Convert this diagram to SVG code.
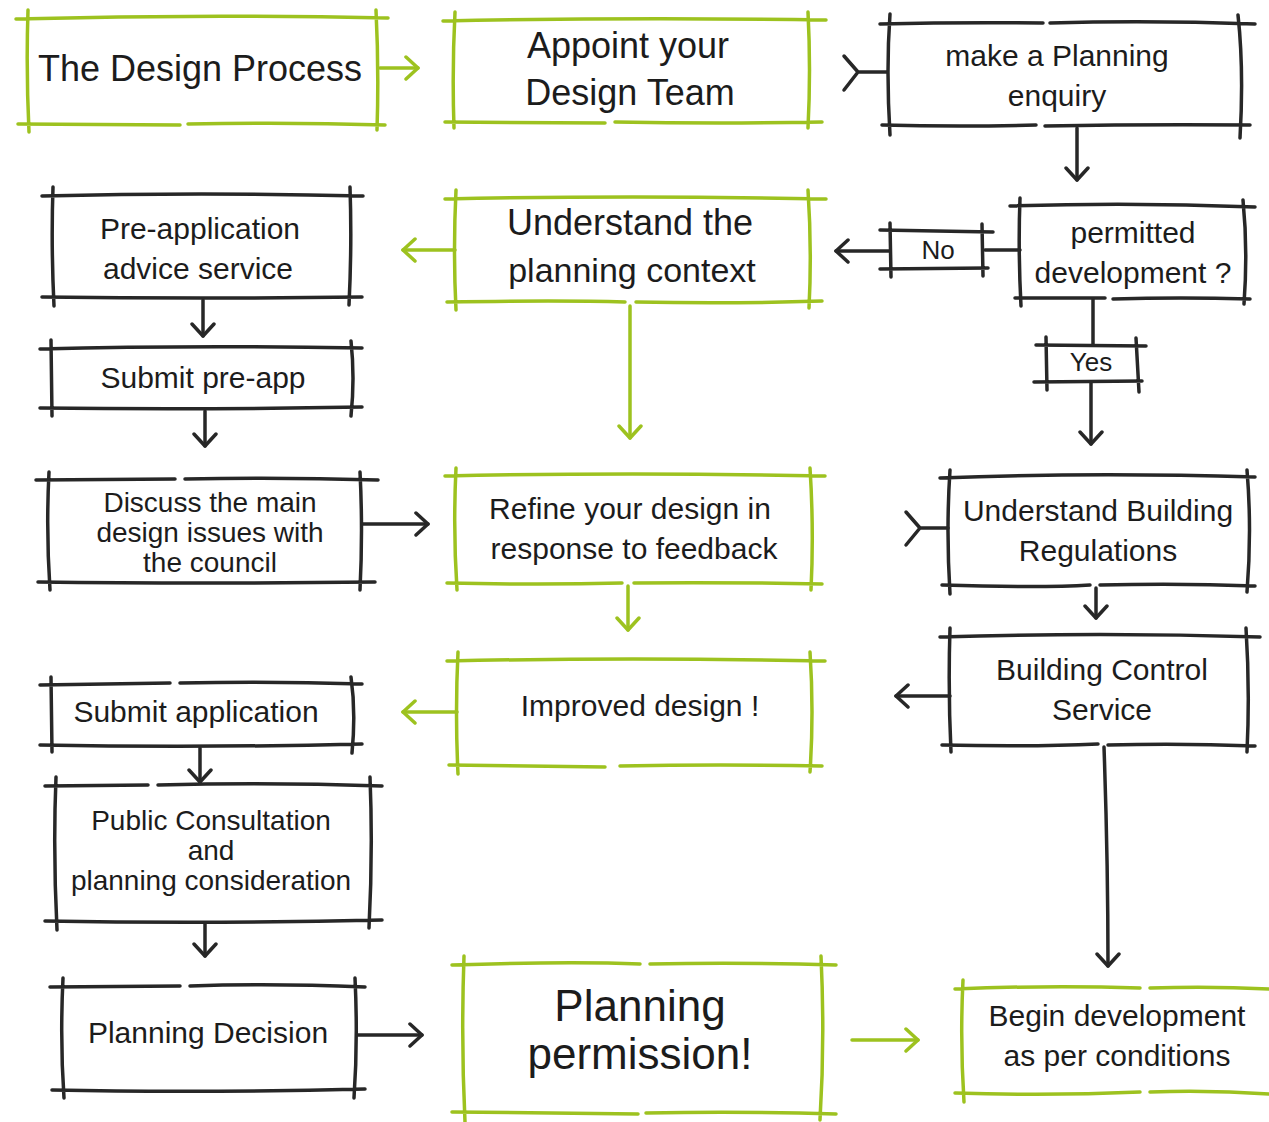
<svg xmlns="http://www.w3.org/2000/svg" width="1269" height="1122" viewBox="0 0 1269 1122">
<defs>
<style>
.g{fill:none;stroke:#9dc21f;stroke-width:3.5;stroke-linecap:round;stroke-linejoin:round}
.k{fill:none;stroke:#272727;stroke-width:3.5;stroke-linecap:round;stroke-linejoin:round}
text{font-family:"Liberation Sans","Noto Sans",sans-serif;fill:#1c1c1c;text-anchor:middle;dominant-baseline:central}
.t28{font-size:28px}.t30{font-size:30px}.t34{font-size:34px}.t36{font-size:36px}.t26{font-size:26px}
</style>
<marker id="ak" viewBox="0 0 16 26" refX="14" refY="13" markerWidth="16" markerHeight="26" orient="auto" markerUnits="userSpaceOnUse">
<path d="M2,2 L14,13 L2,24" fill="none" stroke="#272727" stroke-width="3.5" stroke-linecap="round" stroke-linejoin="round"/>
</marker>
<marker id="ag" viewBox="0 0 16 26" refX="14" refY="13" markerWidth="16" markerHeight="26" orient="auto" markerUnits="userSpaceOnUse">
<path d="M2,2 L14,13 L2,24" fill="none" stroke="#9dc21f" stroke-width="3.5" stroke-linecap="round" stroke-linejoin="round"/>
</marker>
</defs>
<rect width="1269" height="1122" fill="#ffffff"/>

<g id="connectors">
<path class="g" d="M380,68 L418,68" marker-end="url(#ag)"/>
<path class="k" d="M858,72 L887,72 M858,72 L844,56 M858,72 L844,90"/>
<path class="k" d="M1077,128 L1077,180" marker-end="url(#ak)"/>
<path class="k" d="M985,250 L1020,250"/>
<path class="k" d="M890,251 L836,251" marker-end="url(#ak)"/>
<path class="k" d="M1093,299 L1093,344"/>
<path class="k" d="M1091,382 L1091,444" marker-end="url(#ak)"/>
<path class="g" d="M455,250 L403,250" marker-end="url(#ag)"/>
<path class="g" d="M630,306 L630,438" marker-end="url(#ag)"/>
<path class="k" d="M203,300 L203,336" marker-end="url(#ak)"/>
<path class="k" d="M205,411 L205,446" marker-end="url(#ak)"/>
<path class="k" d="M362,524 L428,524" marker-end="url(#ak)"/>
<path class="g" d="M628,586 L628,630" marker-end="url(#ag)"/>
<path class="k" d="M920,528 L948,528 M920,528 L906,512 M920,528 L906,545"/>
<path class="k" d="M1096,588 L1096,618" marker-end="url(#ak)"/>
<path class="k" d="M950,696 L896,696" marker-end="url(#ak)"/>
<path class="k" d="M1104,747 Q1108,860 1108,966" marker-end="url(#ak)"/>
<path class="g" d="M457,712 L403,712" marker-end="url(#ag)"/>
<path class="k" d="M200,748 L200,782" marker-end="url(#ak)"/>
<path class="k" d="M205,923 L205,956" marker-end="url(#ak)"/>
<path class="k" d="M357,1035 L422,1035" marker-end="url(#ak)"/>
<path class="g" d="M852,1040 L918,1040" marker-end="url(#ag)"/>
</g>

<g id="design-process">
<path class="g" d="M16,19 Q200,14 388,18 M18,124 L180,125 M188,124 Q290,122 385,125 M28,10 Q26,70 29,132 M376,10 Q379,70 377,130"/>
<text class="t36" x="200" y="68">The Design Process</text>
</g>

<g id="appoint-team">
<path class="g" d="M443,21 Q630,17 826,20 M445,122 L605,123 M615,122 Q720,124 822,122 M455,12 Q452,70 454,128 M808,12 Q811,70 808,128"/>
<text class="t36" x="628" y="45">Appoint your</text>
<text class="t36" x="630" y="92">Design Team</text>
</g>

<g id="planning-enquiry">
<path class="k" d="M880,24 Q960,22 1043,23 M1050,23 Q1150,20 1255,24 M882,125 Q960,127 1036,125 M1045,126 Q1150,124 1250,125 M890,14 Q886,70 890,135 M1238,15 Q1244,70 1240,138"/>
<text class="t30" x="1057" y="55">make a Planning</text>
<text class="t30" x="1057" y="95">enquiry</text>
</g>

<g id="permitted-development">
<path class="k" d="M1010,206 Q1130,202 1255,207 M1015,298 L1105,298 M1113,299 Q1180,297 1250,299 M1020,198 Q1018,250 1021,306 M1243,200 Q1248,250 1244,304"/>
<text class="t30" x="1133" y="232">permitted</text>
<text class="t30" x="1133" y="272">development ?</text>
</g>

<g id="no-label">
<path class="k" d="M880,230 L993,232 M880,269 L988,268 M890,223 L891,277 M982,224 L983,276"/>
<text class="t26" x="938" y="250">No</text>
</g>

<g id="yes-label">
<path class="k" d="M1036,345 L1146,346 M1034,382 L1142,381 M1046,337 L1047,390 M1136,338 L1139,392"/>
<text class="t26" x="1091" y="362">Yes</text>
</g>

<g id="planning-context">
<path class="g" d="M445,199 Q630,195 826,199 M447,302 Q560,300 625,302 M636,302 Q730,304 822,301 M456,190 Q453,250 456,310 M808,190 Q812,250 809,308"/>
<text class="t36" x="630" y="222">Understand the</text>
<text class="t34" x="632" y="270">planning context</text>
</g>

<g id="pre-application">
<path class="k" d="M42,196 Q200,192 363,196 M42,297 Q200,299 362,297 M53,187 Q51,245 54,306 M350,187 Q352,245 349,305"/>
<text class="t30" x="200" y="228">Pre-application</text>
<text class="t30" x="198" y="268">advice service</text>
</g>

<g id="submit-pre-app">
<path class="k" d="M40,349 Q190,345 362,348 M40,408 Q200,410 362,407 M51,340 L52,416 M351,341 Q355,378 351,416"/>
<text class="t30" x="203" y="377">Submit pre-app</text>
</g>

<g id="discuss">
<path class="k" d="M36,480 L175,479 M185,479 Q280,477 378,480 M38,582 Q200,584 375,582 M49,472 Q46,530 50,590 M360,472 Q363,530 360,590"/>
<text class="t28" x="210" y="502">Discuss the main</text>
<text class="t28" x="210" y="532">design issues with</text>
<text class="t28" x="210" y="562">the council</text>
</g>

<g id="refine-design">
<path class="g" d="M445,476 Q630,472 825,476 M447,583 Q540,585 622,583 M634,583 Q720,582 822,584 M456,468 Q453,530 457,590 M810,468 Q814,530 811,590"/>
<text class="t30" x="630" y="508">Refine your design in</text>
<text class="t30" x="634" y="548">response to feedback</text>
</g>

<g id="building-regulations">
<path class="k" d="M940,478 Q1090,472 1255,477 M942,585 Q1040,588 1090,585 M1100,585 Q1180,583 1255,586 M950,470 Q946,530 950,594 M1247,470 Q1252,530 1247,592"/>
<text class="t30" x="1098" y="510">Understand Building</text>
<text class="t30" x="1098" y="550">Regulations</text>
</g>

<g id="building-control">
<path class="k" d="M940,637 Q1100,632 1260,637 M942,745 Q1030,747 1098,744 M1108,745 Q1180,743 1255,746 M950,628 Q948,690 951,752 M1246,628 Q1250,690 1247,752"/>
<text class="t30" x="1102" y="669">Building Control</text>
<text class="t30" x="1102" y="709">Service</text>
</g>

<g id="improved-design">
<path class="g" d="M447,661 Q630,657 825,661 M449,765 L605,767 M620,766 Q720,764 822,766 M458,652 Q455,712 458,774 M810,652 Q814,712 810,772"/>
<text class="t30" x="640" y="705">Improved design !</text>
</g>

<g id="submit-application">
<path class="k" d="M40,685 L170,683 M180,683 Q270,681 362,684 M40,745 Q200,748 362,744 M51,677 L52,752 M351,677 Q356,712 352,753"/>
<text class="t30" x="196" y="711">Submit application</text>
</g>

<g id="public-consultation">
<path class="k" d="M45,786 L148,785 M158,785 Q270,782 382,786 M45,921 Q210,924 382,920 M56,777 Q53,850 57,930 M370,777 Q373,850 369,928"/>
<text class="t28" x="211" y="820">Public Consultation</text>
<text class="t28" x="211" y="850">and</text>
<text class="t28" x="211" y="880">planning consideration</text>
</g>

<g id="planning-decision">
<path class="k" d="M50,987 L180,986 M190,986 Q270,983 365,987 M52,1090 Q200,1093 365,1089 M63,978 Q60,1040 64,1098 M355,978 Q358,1040 354,1098"/>
<text class="t30" x="208" y="1032">Planning Decision</text>
</g>

<g id="planning-permission">
<path class="g" d="M452,965 Q570,961 640,964 M650,964 Q740,962 836,965 M452,1112 L638,1114 M646,1113 Q740,1111 836,1114 M464,956 Q461,1040 465,1122 M821,956 Q825,1040 820,1120"/>
<text x="640" y="1005" style="font-size:44px">Planning</text>
<text x="640" y="1053" style="font-size:44px">permission!</text>
</g>

<g id="begin-development">
<path class="g" d="M955,989 Q1050,985 1140,988 M1150,988 Q1210,986 1269,989 M955,1093 Q1050,1096 1140,1092 M1150,1092 Q1210,1090 1269,1094 M963,980 Q960,1040 964,1102"/>
<text class="t30" x="1117" y="1015">Begin development</text>
<text class="t30" x="1117" y="1055">as per conditions</text>
</g>
</svg>
